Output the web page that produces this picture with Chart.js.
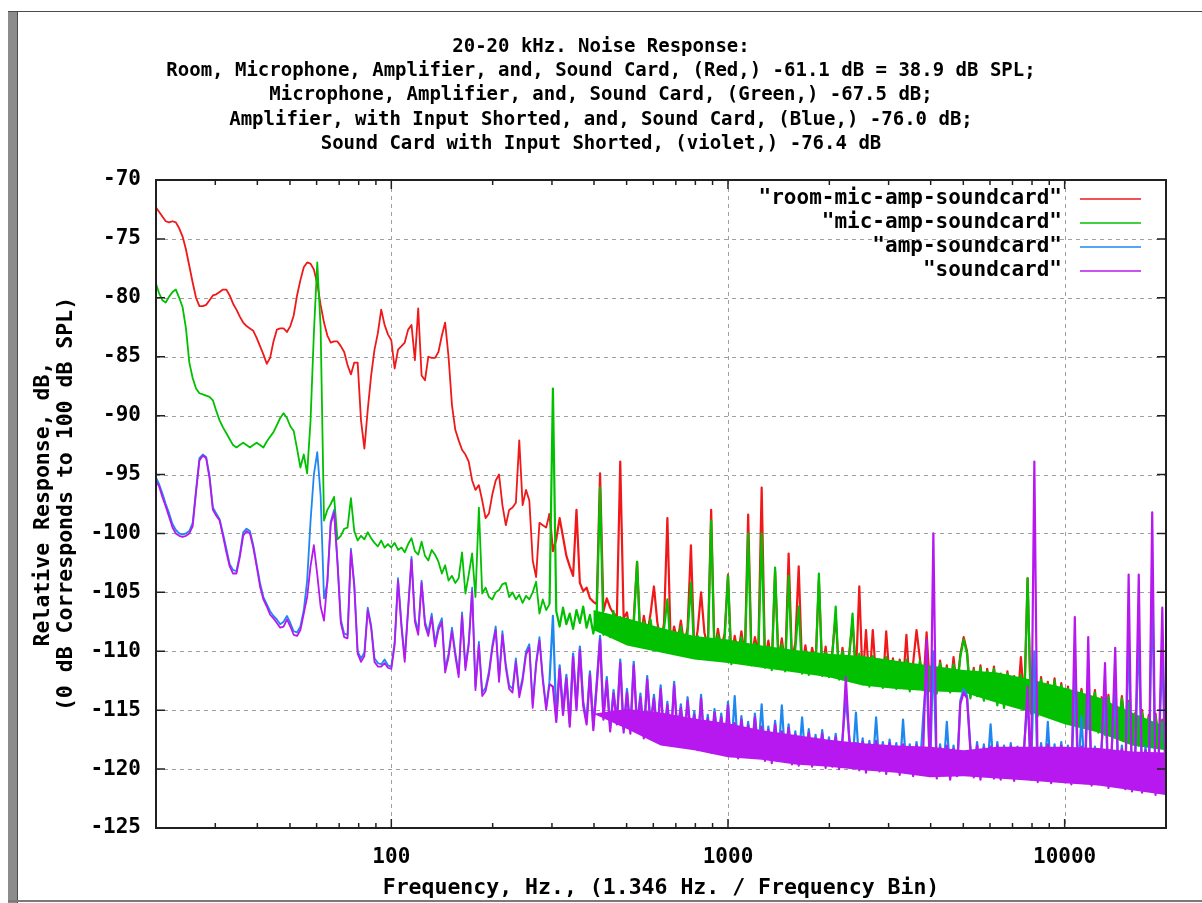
<!DOCTYPE html>
<html>
<head>
<meta charset="utf-8">
<title>20-20 kHz. Noise Response</title>
<script src="https://cdn.jsdelivr.net/npm/chart.js@4.4.1/dist/chart.umd.min.js"></script>
<style>
html, body { margin: 0; padding: 0; background: #fff; overflow: hidden; }
canvas { display: block; }
</style>
</head>
<body>
<canvas id="chart" width="1202" height="903"></canvas>
<script>
// ---------------- data ----------------
const freqHz = [
  19.95, 20.42, 20.89, 21.38, 21.88, 22.39, 22.91, 23.44, 23.99, 24.55,
  25.12, 25.70, 26.30, 26.92, 27.54, 28.18, 28.84, 29.51, 30.20, 30.90,
  31.62, 32.36, 33.11, 33.88, 34.67, 35.48, 36.31, 37.15, 38.02, 38.90,
  39.81, 40.74, 41.69, 42.66, 43.65, 44.67, 45.71, 46.77, 47.86, 48.98,
  50.12, 51.29, 52.48, 53.70, 54.95, 56.23, 57.54, 58.88, 60.26, 61.66,
  63.10, 64.57, 66.07, 67.61, 69.18, 70.79, 72.44, 74.13, 75.86, 77.62,
  79.43, 81.28, 83.18, 85.11, 87.10, 89.13, 91.20, 93.33, 95.50, 97.72,
  100.0, 102.3, 104.7, 107.2, 109.6, 112.2, 114.8, 117.5, 120.2, 123.0,
  125.9, 128.8, 131.8, 134.9, 138.0, 141.3, 144.5, 147.9, 151.4, 154.9,
  158.5, 162.2, 166.0, 169.8, 173.8, 177.8, 182.0, 186.2, 190.5, 195.0,
  199.5, 204.2, 208.9, 213.8, 218.8, 223.9, 229.1, 234.4, 239.9, 245.5,
  251.2, 257.0, 263.0, 269.2, 275.4, 281.8, 288.4, 295.1, 302.0, 309.0,
  316.2, 323.6, 331.1, 338.8, 346.7, 354.8, 363.1, 371.5, 380.2, 389.0,
  398.1, 407.4, 416.9, 426.6, 436.5, 446.7, 457.1, 467.7, 478.6, 489.8,
  501.2, 512.9, 524.8, 537.0, 549.5, 562.3, 575.4, 588.8, 602.6, 616.6,
  631.0, 645.7, 660.7, 676.1, 691.8, 707.9, 724.4, 741.3, 758.6, 776.2,
  794.3, 812.8, 831.8, 851.1, 871.0, 891.3, 912.0, 933.3, 955.0, 977.2,
  1000, 1023, 1047, 1072, 1096, 1122, 1148, 1175, 1202, 1230,
  1259, 1288, 1318, 1349, 1380, 1413, 1445, 1479, 1514, 1549,
  1585, 1622, 1660, 1698, 1738, 1778, 1820, 1862, 1905, 1950,
  1995, 2042, 2089, 2138, 2188, 2239, 2291, 2344, 2399, 2455,
  2512, 2570, 2630, 2692, 2754, 2818, 2884, 2951, 3020, 3090,
  3162, 3236, 3311, 3388, 3467, 3548, 3631, 3715, 3802, 3890,
  3981, 4074, 4169, 4266, 4365, 4467, 4571, 4677, 4786, 4898,
  5012, 5129, 5248, 5370, 5495, 5623, 5754, 5888, 6026, 6166,
  6310, 6457, 6607, 6761, 6918, 7079, 7244, 7413, 7586, 7762,
  7943, 8128, 8318, 8511, 8710, 8913, 9120, 9333, 9550, 9772,
  10000, 10230, 10470, 10720, 10960, 11220, 11480, 11750, 12020, 12300,
  12590, 12880, 13180, 13490, 13800, 14130, 14450, 14790, 15140, 15490,
  15850, 16220, 16600, 16980, 17380, 17780, 18200, 18620, 19050, 19500,
  19950
];

const roomMicAmpSoundcard = [
  -72.3, -72.7, -73.1, -73.5, -73.6, -73.5, -73.6, -74.1, -74.8, -75.9,
  -77.3, -78.7, -80.0, -80.7, -80.7, -80.6, -80.2, -79.8, -79.7, -79.5,
  -79.3, -79.3, -79.8, -80.5, -81.0, -81.6, -82.1, -82.4, -82.6, -82.8,
  -83.4, -84.1, -84.8, -85.6, -85.1, -83.7, -82.7, -82.6, -82.6, -82.9,
  -82.4, -81.5, -79.8, -78.5, -77.4, -77.0, -77.1, -77.6, -78.8, -80.6,
  -82.1, -83.2, -83.8, -83.7, -83.7, -84.1, -84.6, -85.7, -86.5, -85.5,
  -85.5, -90.4, -92.8, -89.5, -86.6, -84.4, -83.0, -81.0, -82.3, -83.1,
  -83.6, -86.0, -84.4, -84.1, -83.8, -82.7, -82.3, -85.3, -80.9, -86.6,
  -87.0, -85.0, -85.1, -85.1, -84.6, -83.2, -82.1, -85.0, -89.1, -91.2,
  -92.1, -92.9, -93.3, -93.9, -95.5, -96.3, -95.9, -97.2, -98.7, -98.3,
  -96.7, -95.5, -95.0, -97.6, -99.3, -98.0, -97.8, -97.4, -92.1, -97.6,
  -96.3, -97.2, -102.3, -103.7, -99.1, -99.3, -99.5, -98.3, -101.5, -100.5,
  -98.7, -100.3, -101.9, -102.8, -103.6, -98.0, -104.2, -104.9, -104.6, -105.5,
  -105.8, -106.0, -94.9, -106.6, -105.5, -106.3, -106.8, -107.0, -93.9, -107.2,
  -106.7, -108.8, -107.3, -102.4, -109.1, -107.0, -108.6, -106.8, -104.5, -107.5,
  -109.4, -107.6, -98.7, -109.6, -107.9, -109.2, -107.4, -109.5, -108.0, -101.0,
  -109.9, -108.2, -105.0, -108.4, -109.7, -98.0, -110.2, -108.1, -109.8, -108.5,
  -103.5, -110.6, -108.7, -110.3, -108.3, -110.4, -98.4, -110.7, -108.8, -110.1,
  -96.1, -110.9, -109.1, -111.1, -103.2, -110.8, -108.9, -111.2, -101.7, -110.7,
  -109.3, -102.8, -111.4, -109.5, -111.5, -109.7, -111.1, -104.0, -111.6, -109.6,
  -111.9, -110.0, -107.0, -112.1, -109.7, -111.8, -110.2, -107.5, -112.0, -104.5,
  -112.6, -108.2, -112.8, -108.2, -112.4, -110.7, -112.9, -108.3, -112.5, -110.6,
  -113.0, -110.7, -112.8, -108.6, -113.2, -111.0, -108.2, -110.6, -113.1, -108.4,
  -113.2, -111.0, -113.4, -110.8, -113.0, -111.2, -113.3, -110.5, -113.1, -110.3,
  -108.8, -110.0, -113.8, -111.4, -113.6, -111.2, -114.0, -111.5, -113.7, -111.3,
  -114.4, -111.9, -114.6, -111.7, -114.2, -112.1, -114.5, -110.5, -114.3, -103.8,
  -115.1, -112.4, -115.3, -112.2, -114.9, -112.6, -115.2, -112.3, -115.0, -112.7,
  -115.8, -113.0, -116.0, -112.8, -115.6, -113.2, -115.9, -112.9, -115.7, -113.3,
  -116.7, -113.9, -116.9, -113.7, -116.6, -114.1, -116.8, -113.8, -116.5, -114.2,
  -117.6, -115.2, -117.8, -115.0, -117.5, -115.4, -117.7, -115.3, -117.9, -115.8,
  -117.6
];

const micAmpSoundcard = [
  -78.7, -79.6, -80.2, -80.4, -79.9, -79.5, -79.3, -80.0, -80.8, -82.6,
  -85.5, -86.8, -87.7, -88.1, -88.2, -88.3, -88.4, -88.7, -89.6, -90.4,
  -91.0, -91.5, -92.0, -92.5, -92.7, -92.5, -92.3, -92.5, -92.7, -92.5,
  -92.3, -92.5, -92.7, -92.2, -91.8, -91.4, -90.8, -90.2, -89.8, -90.2,
  -90.9, -91.3, -92.8, -94.4, -93.3, -94.9, -90.5, -83.0, -77.0, -82.5,
  -98.9, -98.0, -97.5, -96.9, -100.5, -100.2, -99.6, -99.5, -97.0, -99.8,
  -100.6, -100.2, -100.5, -99.9, -100.4, -100.8, -101.1, -100.6, -101.2, -100.9,
  -101.2, -100.8, -101.4, -101.2, -101.6, -100.9, -100.4, -101.5, -101.8, -100.7,
  -101.9, -102.3, -101.4, -101.8, -102.4, -103.4, -102.7, -104.0, -103.6, -104.2,
  -103.8, -101.6, -105.1, -103.5, -101.7, -105.4, -97.8, -105.1, -104.6, -105.4,
  -105.6, -105.0, -104.8, -104.3, -104.2, -105.4, -105.0, -105.6, -105.2, -105.9,
  -105.3, -105.6, -105.0, -104.1, -106.8, -105.6, -106.5, -106.0, -87.7, -106.6,
  -107.9, -106.3, -107.7, -106.8, -108.1, -106.5, -107.6, -106.2, -108.0, -106.9,
  -108.5, -106.9, -96.1, -108.6, -107.0, -108.8, -106.6, -108.2, -107.1, -108.9,
  -107.2, -109.3, -107.8, -102.4, -109.6, -107.5, -109.1, -107.3, -109.5, -108.0,
  -109.9, -108.1, -105.6, -110.1, -108.4, -109.7, -107.9, -110.0, -108.5, -104.2,
  -110.4, -108.7, -110.6, -108.9, -110.2, -98.9, -110.7, -108.6, -110.3, -109.0,
  -103.6, -111.1, -109.2, -110.8, -108.8, -110.9, -100.0, -111.2, -109.3, -110.6,
  -100.0, -111.4, -109.6, -111.6, -102.9, -111.3, -109.4, -111.7, -103.6, -111.2,
  -109.8, -106.2, -111.9, -110.0, -112.0, -110.2, -111.6, -103.4, -112.1, -110.1,
  -112.2, -110.3, -106.2, -112.4, -110.0, -112.1, -110.5, -106.8, -112.3, -110.2,
  -112.8, -110.6, -113.0, -110.4, -112.6, -110.9, -113.1, -110.5, -112.7, -110.8,
  -113.2, -110.9, -113.0, -110.7, -113.4, -111.2, -112.9, -110.8, -113.3, -111.0,
  -113.4, -111.2, -113.6, -111.0, -113.2, -111.4, -113.5, -111.1, -113.3, -110.5,
  -109.0, -110.2, -114.0, -111.6, -113.8, -111.4, -114.2, -111.7, -113.9, -111.5,
  -114.6, -112.1, -114.8, -111.9, -114.4, -112.3, -114.7, -112.0, -114.5, -103.8,
  -115.3, -112.6, -115.5, -112.4, -115.1, -112.8, -115.4, -112.5, -115.2, -112.9,
  -116.0, -113.2, -116.2, -113.0, -115.8, -113.4, -116.1, -113.1, -115.9, -113.5,
  -116.9, -114.1, -117.1, -113.9, -116.8, -114.3, -117.0, -114.0, -116.7, -114.4,
  -117.8, -115.4, -118.0, -115.2, -117.7, -115.6, -117.9, -115.5, -118.1, -116.0,
  -117.8
];

const ampSoundcard = [
  -95.2, -95.8, -96.6, -97.5, -98.3, -99.2, -99.7, -100.0, -100.1, -100.0,
  -99.8, -99.1, -96.3, -93.6, -93.3, -93.5, -95.1, -97.8, -98.3, -98.8,
  -100.0, -101.3, -102.6, -103.1, -103.2, -101.8, -99.9, -99.6, -99.8, -101.0,
  -102.6, -104.2, -105.4, -106.0, -106.6, -107.0, -107.3, -107.7, -107.5, -107.0,
  -107.6, -108.3, -108.4, -107.9, -106.5, -104.0, -99.0, -95.0, -93.1, -96.8,
  -105.5, -104.2, -99.0, -98.0, -102.3, -107.3, -108.5, -108.6, -101.3, -104.3,
  -110.0, -110.6, -110.1, -106.3, -107.8, -110.6, -111.0, -111.1, -110.7, -111.2,
  -111.3, -109.2, -103.8, -107.7, -110.6, -106.3, -102.0, -107.2, -108.3, -104.0,
  -107.5, -108.4, -106.8, -109.3, -107.9, -107.2, -111.5, -110.2, -108.0, -110.1,
  -111.9, -106.7, -111.3, -109.2, -104.6, -113.0, -109.2, -113.5, -113.1, -111.7,
  -109.5, -107.9, -112.3, -108.3, -111.1, -112.9, -113.2, -110.6, -113.6, -112.2,
  -110.0, -109.4, -114.5, -110.9, -108.8, -112.2, -114.7, -112.5, -107.0, -115.7,
  -111.2, -115.1, -112.0, -116.1, -110.2, -114.7, -109.6, -114.3, -115.9, -111.7,
  -116.4, -112.7, -108.7, -115.5, -112.2, -116.5, -113.3, -115.9, -110.7, -116.6,
  -113.2, -116.7, -110.9, -116.3, -113.6, -117.1, -112.1, -116.2, -113.7, -117.0,
  -112.9, -117.3, -114.3, -117.6, -112.6, -116.9, -114.5, -117.6, -113.9, -117.2,
  -115.1, -118.1, -113.7, -117.9, -115.4, -118.3, -114.9, -117.6, -115.3, -118.2,
  -114.3, -118.6, -113.8, -118.8, -115.5, -118.4, -116.0, -118.7, -115.3, -118.5,
  -114.5, -119.0, -116.4, -119.2, -115.9, -118.9, -114.6, -119.1, -116.2, -119.3,
  -116.8, -119.4, -115.6, -119.2, -116.6, -119.5, -117.1, -119.3, -116.7, -119.6,
  -117.3, -119.5, -117.0, -119.7, -117.4, -114.0, -117.2, -119.6, -115.2, -119.8,
  -117.4, -120.0, -117.6, -119.7, -115.6, -119.9, -117.7, -120.1, -117.5, -119.8,
  -117.8, -120.2, -115.8, -120.0, -117.9, -120.3, -117.7, -120.1, -115.5, -112.0,
  -120.3, -110.0, -120.5, -117.9, -120.2, -116.0, -120.6, -118.0, -120.3, -114.2,
  -113.2, -113.8, -118.1, -120.4, -117.7, -120.6, -117.9, -120.3, -116.2, -120.5,
  -117.7, -120.6, -118.0, -120.4, -117.8, -120.7, -118.1, -120.5, -117.9, -114.0,
  -120.6, -110.0, -120.8, -117.8, -120.5, -116.0, -120.9, -117.9, -120.6, -117.7,
  -120.8, -118.0, -121.0, -112.0, -120.7, -115.5, -120.9, -112.5, -121.1, -118.1,
  -121.0, -117.9, -114.0, -121.3, -118.2, -113.0, -121.1, -118.0, -121.4, -108.0,
  -121.6, -118.3, -108.0, -121.7, -118.1, -121.5, -104.0, -121.9, -118.4, -110.0,
  -121.2
];

const soundcardOnly = [
  -95.5, -96.0, -96.9, -97.7, -98.6, -99.5, -100.0, -100.2, -100.3, -100.2,
  -100.0, -99.4, -96.5, -93.8, -93.4, -93.6, -95.3, -98.0, -98.5, -98.9,
  -100.2, -101.6, -102.8, -103.4, -103.4, -102.0, -100.2, -99.8, -100.0, -101.2,
  -102.8, -104.5, -105.6, -106.2, -106.9, -107.2, -107.6, -108.0, -107.9, -107.3,
  -107.9, -108.6, -108.7, -108.2, -106.8, -105.4, -102.8, -101.0, -103.5, -106.2,
  -107.4, -104.0, -99.2, -98.2, -102.5, -107.6, -108.8, -108.9, -101.5, -104.5,
  -110.2, -110.9, -110.4, -106.5, -108.0, -110.9, -111.3, -111.3, -111.0, -111.4,
  -111.5, -109.5, -104.0, -108.0, -110.9, -106.5, -102.2, -107.5, -108.6, -104.2,
  -107.8, -108.7, -107.1, -109.6, -108.2, -107.5, -111.8, -110.5, -108.3, -110.4,
  -112.2, -107.0, -111.6, -109.5, -104.9, -113.3, -109.5, -113.8, -113.4, -112.0,
  -109.8, -108.2, -112.6, -108.6, -111.4, -113.2, -113.5, -110.9, -113.9, -112.5,
  -110.3, -109.7, -114.8, -111.2, -109.1, -112.5, -115.0, -112.8, -113.0, -116.0,
  -111.5, -115.4, -112.3, -116.4, -110.5, -115.0, -109.9, -114.6, -116.2, -112.0,
  -116.7, -113.0, -109.0, -115.8, -112.5, -116.8, -113.6, -116.2, -111.0, -116.9,
  -113.5, -117.0, -111.2, -116.6, -113.9, -117.4, -112.4, -116.5, -114.0, -117.3,
  -113.2, -117.6, -114.6, -117.9, -112.9, -117.2, -114.8, -117.9, -114.2, -117.5,
  -115.4, -118.4, -114.0, -118.2, -115.7, -118.6, -115.2, -117.9, -115.6, -118.5,
  -114.6, -118.9, -116.1, -119.1, -115.8, -118.7, -116.3, -119.0, -115.6, -118.8,
  -116.4, -119.3, -116.7, -119.5, -116.2, -119.2, -116.8, -119.4, -116.5, -119.6,
  -117.1, -119.7, -117.3, -119.5, -116.9, -119.8, -117.4, -119.6, -117.0, -119.9,
  -117.6, -119.8, -117.3, -120.0, -117.7, -112.2, -117.5, -119.9, -117.8, -120.1,
  -117.7, -120.3, -117.9, -120.0, -117.6, -120.2, -118.0, -120.4, -117.8, -120.1,
  -118.1, -120.5, -117.9, -120.3, -118.2, -120.6, -118.0, -120.4, -118.3, -109.0,
  -120.6, -100.0, -120.8, -118.2, -120.5, -118.0, -120.9, -118.3, -120.6, -114.5,
  -113.5, -114.0, -118.4, -120.7, -118.0, -120.9, -118.2, -120.6, -118.1, -120.8,
  -118.0, -120.9, -118.3, -120.7, -118.1, -121.0, -118.4, -120.8, -118.2, -113.0,
  -120.9, -93.9, -121.1, -118.1, -120.8, -117.9, -121.2, -118.2, -120.9, -118.0,
  -121.1, -118.3, -121.3, -107.1, -121.0, -118.1, -121.2, -108.8, -121.4, -118.4,
  -121.3, -118.2, -111.0, -121.6, -118.5, -109.7, -121.4, -118.3, -121.7, -103.5,
  -121.9, -118.6, -103.5, -122.0, -118.4, -121.8, -98.2, -122.2, -118.7, -106.3,
  -121.5
];

// Above ~400 Hz the FFT bins pack so tightly that each trace becomes a solid band;
// these are the top / bottom edges of those bands.
const bandHz = [398.1, 501.2, 631.0, 794.3, 1000, 1259, 1585, 1995, 2512,
                3162, 3981, 5012, 6310, 7943, 10000, 12590, 15850, 19950];
const micAmpBandTop    = [-106.5, -107.2, -108.0, -108.7, -109.0, -109.5, -109.9, -110.2, -110.4,
                          -110.8, -111.2, -111.6, -111.8, -112.4, -113.1, -113.9, -115.2, -116.4];
const micAmpBandBottom = [-108.2, -109.5, -110.1, -110.7, -111.0, -111.4, -111.8, -112.2, -112.9,
                          -113.2, -113.4, -113.5, -114.4, -115.2, -116.2, -116.9, -118.0, -118.4];
const soundcardBandTop    = [-115.3, -114.9, -115.2, -115.7, -116.1, -116.7, -117.1, -117.5, -117.8,
                             -118.0, -118.1, -118.4, -118.1, -118.1, -118.1, -118.2, -118.5, -118.6];
const soundcardBandBottom = [-115.3, -116.6, -118.0, -118.4, -119.0, -119.2, -119.6, -119.8, -120.1,
                             -120.3, -120.7, -120.6, -120.8, -121.0, -121.2, -121.4, -121.8, -122.2];

const seriesLabels = ['"room-mic-amp-soundcard"', '"mic-amp-soundcard"', '"amp-soundcard"', '"soundcard"'];
const seriesColors = ['#f01818', '#00c000', '#1e88f0', '#b818f0'];

const titleLines = [
  '20-20 kHz. Noise Response:',
  'Room, Microphone, Amplifier, and, Sound Card, (Red,) -61.1 dB = 38.9 dB SPL;',
  'Microphone, Amplifier, and, Sound Card, (Green,) -67.5 dB;',
  'Amplifier, with Input Shorted, and, Sound Card, (Blue,) -76.0 dB;',
  'Sound Card with Input Shorted, (violet,) -76.4 dB'
];
const xAxisTitle = 'Frequency, Hz., (1.346 Hz. / Frequency Bin)';
const yAxisTitleLines = ['Relative Response, dB,', '(0 dB Corresponds to 100 dB SPL)'];

const xMajorTicks = [100, 1000, 10000];
const xMinorTicks = [20, 30, 40, 50, 60, 70, 80, 90, 200, 300, 400, 500, 600, 700, 800, 900,
                     2000, 3000, 4000, 5000, 6000, 7000, 8000, 9000];
const yMin = -125, yMax = -70, yStep = 5;
const xMin = 20, xMax = 20000;
const denseFromHz = 290;

// ---------------- chart ----------------
const FONT = '"DejaVu Sans Mono", "Liberation Mono", monospace';
Chart.defaults.font.family = FONT;
Chart.defaults.color = '#000';

const seriesValues = [roomMicAmpSoundcard, micAmpSoundcard, ampSoundcard, soundcardOnly];
const lengthsOk = seriesValues.every(v => v.length === freqHz.length);
// drawing order (higher = further back): red, green band, green, blue, violet band, violet
const lineOrder = [10, 8, 7, 5];

const lineSets = seriesValues.map((vals, i) => ({
  label: seriesLabels[i],
  data: freqHz.map((f, j) => ({ x: f, y: vals[j] })),
  borderColor: seriesColors[i],
  backgroundColor: seriesColors[i],
  borderWidth: 1.8,
  borderJoinStyle: 'round',
  segment: { borderWidth: ctx => (ctx.p0.parsed.x >= denseFromHz ? 2.2 : 1.8) },
  pointRadius: 0,
  tension: 0,
  fill: false,
  order: lineOrder[i]
}));

const bandSet = (vals, color, fill, order) => ({
  label: '',
  data: bandHz.map((f, j) => ({ x: f, y: vals[j] })),
  borderColor: 'transparent',
  borderWidth: 0,
  backgroundColor: color,
  pointRadius: 0,
  tension: 0,
  fill,
  order
});

const datasets = [
  ...lineSets,                                           // 0..3
  bandSet(micAmpBandTop, seriesColors[1], false, 9),     // 4
  bandSet(micAmpBandBottom, seriesColors[1], '-1', 9),   // 5 -> fills to 4
  bandSet(soundcardBandTop, seriesColors[3], false, 6),  // 6
  bandSet(soundcardBandBottom, seriesColors[3], '-1', 6) // 7 -> fills to 6
];

const gnuplotLook = {
  id: 'gnuplotLook',
  beforeDraw(chart) {
    const c = chart.ctx, W = chart.width, H = chart.height;
    c.save();
    c.fillStyle = '#ffffff';
    c.fillRect(0, 0, W, H);
    c.fillStyle = '#8c8c8c';
    c.fillRect(8, 12, 9, H - 12);
    c.fillStyle = '#4a4a4a';
    c.fillRect(8, 11, W - 8, 1);
    c.fillRect(17, 12, 1, H - 12);
    c.fillStyle = '#7a7a7a';
    c.fillRect(8, 900, W - 8, 2);
    c.restore();
  },
  beforeDatasetsDraw(chart) {
    const { ctx: c, chartArea: a, scales: { x, y } } = chart;
    c.save();
    c.strokeStyle = '#a0a0a0';
    c.lineWidth = 1;
    c.setLineDash([4, 4]);
    c.beginPath();
    y.ticks.forEach(t => {
      if (t.value <= yMin || t.value >= yMax) return;
      const p = Math.round(y.getPixelForValue(t.value)) + 0.5;
      c.moveTo(a.left, p); c.lineTo(a.right, p);
    });
    xMajorTicks.forEach(v => {
      const p = Math.round(x.getPixelForValue(v)) + 0.5;
      c.moveTo(p, a.top); c.lineTo(p, a.bottom);
    });
    c.stroke();
    c.restore();
  },
  afterDatasetsDraw(chart) {
    const { ctx: c, chartArea: a, scales: { x, y } } = chart;
    c.save();
    c.strokeStyle = '#202020';
    c.lineWidth = 2;
    c.strokeRect(a.left, a.top, a.right - a.left, a.bottom - a.top);
    c.lineWidth = 1.5;
    c.beginPath();
    y.ticks.forEach(t => {
      const p = y.getPixelForValue(t.value);
      c.moveTo(a.left, p); c.lineTo(a.left + 9, p);
      c.moveTo(a.right, p); c.lineTo(a.right - 9, p);
    });
    xMajorTicks.forEach(v => {
      const p = x.getPixelForValue(v);
      c.moveTo(p, a.bottom); c.lineTo(p, a.bottom - 9);
      c.moveTo(p, a.top); c.lineTo(p, a.top + 9);
    });
    xMinorTicks.forEach(v => {
      const p = x.getPixelForValue(v);
      c.moveTo(p, a.bottom); c.lineTo(p, a.bottom - 5);
      c.moveTo(p, a.top); c.lineTo(p, a.top + 5);
    });
    c.stroke();
    c.font = 'bold 21px ' + FONT;
    c.textAlign = 'right';
    c.textBaseline = 'middle';
    seriesLabels.forEach((lab, i) => {
      const yy = a.top + 19 + 24 * i;
      c.fillStyle = '#000';
      c.fillText(lab, a.right - 104, yy);
      c.strokeStyle = seriesColors[i];
      c.lineWidth = 1.6;
      c.beginPath();
      c.moveTo(a.right - 86, yy); c.lineTo(a.right - 25, yy);
      c.stroke();
    });
    c.restore();
  },
  afterDraw(chart) {
    const { ctx: c, chartArea: a } = chart;
    c.save();
    c.fillStyle = '#000';
    c.textAlign = 'center';
    c.textBaseline = 'middle';
    c.font = 'bold 19px ' + FONT;
    titleLines.forEach((t, i) => c.fillText(t, chart.width / 2, 47 + 24.25 * i));
    c.font = 'bold 21.5px ' + FONT;
    c.fillText(xAxisTitle, (a.left + a.right) / 2, 888);
    const cy = (a.top + a.bottom) / 2;
    [43, 66].forEach((cx, i) => {
      c.save();
      c.translate(cx, cy);
      c.rotate(-Math.PI / 2);
      c.fillText(yAxisTitleLines[i], 0, 0);
      c.restore();
    });
    if (!lengthsOk) {
      c.fillStyle = 'red';
      c.textAlign = 'left';
      c.fillText('LENGTH MISMATCH ' + seriesValues.map(v => v.length).join(',') + ' vs ' + freqHz.length, 30, 20);
    }
    c.restore();
  }
};

new Chart(document.getElementById('chart').getContext('2d'), {
  type: 'line',
  data: { datasets },
  options: {
    responsive: false,
    animation: false,
    devicePixelRatio: 1,
    events: [],
    parsing: false,
    layout: { padding: { left: 0, top: 180, right: 36, bottom: 0 } },
    plugins: {
      legend: { display: false },
      tooltip: { enabled: false },
      title: { display: false },
      filler: { propagate: false }
    },
    scales: {
      x: {
        type: 'logarithmic',
        min: xMin,
        max: xMax,
        afterBuildTicks: s => { s.ticks = xMajorTicks.map(v => ({ value: v })); },
        afterFit: s => { s.height = 75; },
        grid: { display: false, drawTicks: false },
        border: { display: false },
        ticks: {
          autoSkip: false,
          maxRotation: 0,
          padding: 17,
          font: { size: 21, weight: 'bold' },
          color: '#000',
          callback: v => String(v)
        }
      },
      y: {
        type: 'linear',
        min: yMin,
        max: yMax,
        afterFit: s => { s.width = 156; },
        grid: { display: false, drawTicks: false },
        border: { display: false },
        ticks: {
          stepSize: yStep,
          padding: 15,
          font: { size: 21, weight: 'bold' },
          color: '#000',
          callback: v => String(v)
        }
      }
    }
  },
  plugins: [gnuplotLook]
});
</script>
</body>
</html>
